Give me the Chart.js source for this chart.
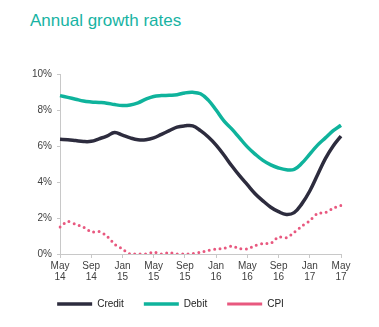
<!DOCTYPE html>
<html lang="en">
<head>
    <meta charset="UTF-8">
    <title>Annual growth rates</title>
    <script src="https://cdn.jsdelivr.net/npm/chart.js"></script>
    <style>
        body { margin: 0; background: #fff; }
        #wrap { position: relative; width: 379px; height: 327px; }
        #title {
            position: absolute; left: 30px; top: 12px;
            font: 17px/17px "Liberation Sans", Arial, sans-serif;
            color: #17b3a3;
        }
        canvas { position: absolute; left: 0; top: 0; }
    </style>
</head>
<body>
    <div id="wrap">
        <div id="title">Annual growth rates</div>
        <canvas id="growthChart" width="379" height="327"></canvas>
    </div>

    <script>
    // monthly, May 2014 - May 2017
    const months = [
        'May 14', 'Jun 14', 'Jul 14', 'Aug 14', 'Sep 14', 'Oct 14', 'Nov 14', 'Dec 14',
        'Jan 15', 'Feb 15', 'Mar 15', 'Apr 15', 'May 15', 'Jun 15', 'Jul 15', 'Aug 15',
        'Sep 15', 'Oct 15', 'Nov 15', 'Dec 15', 'Jan 16', 'Feb 16', 'Mar 16', 'Apr 16',
        'May 16', 'Jun 16', 'Jul 16', 'Aug 16', 'Sep 16', 'Oct 16', 'Nov 16', 'Dec 16',
        'Jan 17', 'Feb 17', 'Mar 17', 'Apr 17', 'May 17'
    ];
    const credit = [6.37, 6.35, 6.3, 6.25, 6.26, 6.4, 6.55, 6.75, 6.6, 6.45, 6.35, 6.35,
        6.45, 6.65, 6.85, 7.05, 7.12, 7.12, 6.85, 6.5, 6.05, 5.5, 4.9, 4.35,
        3.85, 3.35, 2.95, 2.6, 2.35, 2.2, 2.3, 2.8, 3.5, 4.4, 5.3, 6.0, 6.55];
    const debit = [8.8, 8.7, 8.6, 8.5, 8.45, 8.42, 8.38, 8.3, 8.25, 8.28, 8.4, 8.6,
        8.75, 8.8, 8.82, 8.85, 8.95, 8.98, 8.9, 8.55, 8.0, 7.4, 6.95, 6.45,
        5.95, 5.55, 5.2, 4.95, 4.78, 4.68, 4.7, 5.05, 5.55, 6.05, 6.45, 6.85, 7.15];
    const cpi = [1.5, 1.8, 1.65, 1.5, 1.23, 1.25, 1.0, 0.55, 0.28, 0.0, 0.0, 0.0,
        0.1, 0.0, 0.08, 0.0, 0.0, 0.02, 0.1, 0.2, 0.27, 0.31, 0.43, 0.3,
        0.28, 0.47, 0.58, 0.6, 0.95, 0.9, 1.2, 1.55, 1.85, 2.25, 2.3, 2.55, 2.7];
    const yTicks = [0, 2, 4, 6, 8, 10];

    const axisGrey = '#c8c8c8';
    const tickFont = { family: '"Liberation Sans", Arial, sans-serif', size: 10, lineHeight: 1.1 };

    // pull the legend up, closer to the axis labels
    const legendNudge = {
        id: 'legendNudge',
        afterLayout(chart) {
            chart.legend.top -= 7;
            chart.legend.bottom -= 7;
        }
    };

    new Chart(document.getElementById('growthChart'), {
        type: 'line',
        data: {
            labels: months,
            datasets: [{
                label: 'Credit',
                data: credit,
                borderColor: '#2d2c3e',
                borderWidth: 3.5,
                tension: 0.4
            }, {
                label: 'Debit',
                data: debit,
                borderColor: '#0fb39c',
                borderWidth: 3.5,
                tension: 0.4
            }, {
                label: 'CPI',
                data: cpi,
                borderColor: '#e8587f',
                borderWidth: 3,
                borderDash: [0, 5.4],
                borderCapStyle: 'round',
                tension: 0.3
            }]
        },
        options: {
            responsive: false,
            animation: false,
            elements: { point: { radius: 0, hoverRadius: 0 } },
            layout: { padding: { left: 0, right: 38, top: 74, bottom: 1 } },
            plugins: {
                tooltip: { enabled: false },
                legend: {
                    position: 'bottom',
                    labels: {
                        usePointStyle: true,
                        pointStyle: 'line',
                        pointStyleWidth: 35,
                        padding: 20,
                        color: '#222',
                        font: { family: '"Liberation Sans", Arial, sans-serif', size: 10 }
                    }
                }
            },
            scales: {
                x: {
                    offset: false,
                    grid: { drawOnChartArea: false, tickLength: 4, color: axisGrey },
                    border: { color: axisGrey },
                    ticks: {
                        autoSkip: false,
                        maxRotation: 0,
                        padding: 3,
                        color: '#404040',
                        font: tickFont,
                        callback: (v, i) => i % 4 === 0 ? months[i].split(' ') : null
                    }
                },
                y: {
                    min: 0,
                    max: 10,
                    grid: { drawOnChartArea: false, tickLength: 3, color: axisGrey },
                    border: { color: axisGrey },
                    afterBuildTicks: (scale) => { scale.ticks = yTicks.map(v => ({ value: v })); },
                    ticks: {
                        padding: 5,
                        color: '#404040',
                        font: tickFont,
                        callback: (v) => v + '%'
                    },
                    afterFit: (scale) => { scale.width = 60; }
                }
            }
        },
        plugins: [legendNudge]
    });
    </script>
</body>
</html>
